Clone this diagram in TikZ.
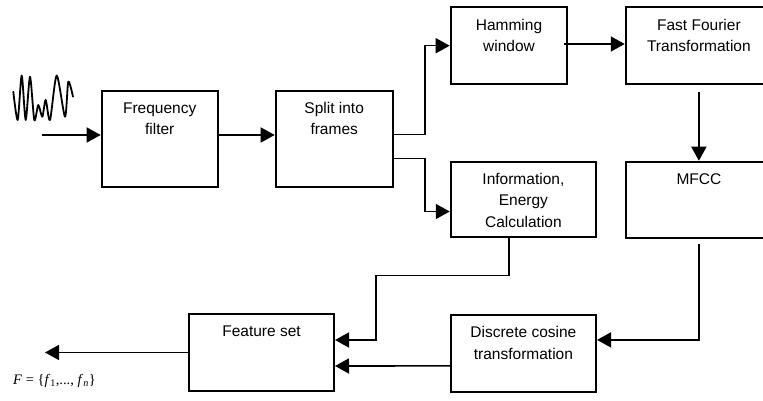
\documentclass[tikz,border=0pt]{standalone}
\usepackage{fontspec}
\setmainfont{Liberation Sans}
\newfontfamily\serifform{Liberation Serif}
\usetikzlibrary{arrows.meta}
\tikzset{
  box/.style={draw, line width=2pt, inner sep=0pt, rectangle},
  boxtext/.style={anchor=north, align=center, inner sep=0pt, font=\fontsize{15.5}{21.3}\selectfont, yshift=-12.5pt},
  conn/.style={line width=1.6pt, -{Triangle[length=14pt,width=15pt]}}
}
\begin{document}
\begin{tikzpicture}[x=1pt,y=-1pt]
\clip (0,0) rectangle (763,401);
\useasboundingbox (0,0) rectangle (763,401);
% waveform
\draw[line width=1.8pt, line join=round, line cap=round] plot[smooth, tension=0.45] coordinates {
 (13.3,91.7) (17.7,120) (21.7,75.5) (25.7,120) (30,76.7) (34.3,120) (38.3,105) (42.3,116.7)
 (45.7,100) (50,120) (56.7,75.5) (65,116.7) (68.3,81.7) (73,96.7)};
% boxes
\node[box, minimum width=116pt, minimum height=96pt] (ff) at (159.7,138.7) {};
\node[box, minimum width=117pt, minimum height=96pt] (split) at (334.2,138.7) {};
\node[box, minimum width=116.6pt, minimum height=76.7pt] (hw) at (509,45.7) {};
\node[box, minimum width=146.3pt, minimum height=76.7pt] (fft) at (698.9,45.7) {};
\node[box, minimum width=145.3pt, minimum height=75.6pt] (info) at (523.4,199.5) {};
\node[box, minimum width=146.3pt, minimum height=76.3pt] (mfcc) at (698.9,199.9) {};
\node[box, minimum width=145.3pt, minimum height=76.7pt] (dct) at (523.4,353.4) {};
\node[box, minimum width=145pt, minimum height=76.4pt] (feat) at (261.5,352.5) {};
% texts
\node[boxtext] (ff-t) at (ff.north) {Frequency\\filter};
\node[boxtext] (split-t) at (split.north) {Split into\\frames};
\node[boxtext] (hw-t) at (hw.north) {Hamming\\window};
\node[boxtext] (fft-t) at (fft.north) {Fast Fourier\\Transformation};
\node[boxtext] (info-t) at (info.north) {Information,\\Energy\\Calculation};
\node[boxtext] (mfcc-t) at (mfcc.north) {MFCC};
\node[boxtext] (dct-t) at (dct.north) {Discrete cosine\\transformation};
\node[boxtext] (feat-t) at (feat.north) {Feature set};
% formula
\node[anchor=west, inner sep=0pt, font=\fontsize{14.5}{16}\serifform] (formula) at (13,381)
 {\textit{F} = \{\textit{f}\textsubscript{1},..., \textit{f}\textsubscript{\textit{n}}\}};
% connectors
\coordinate (in) at (42,135);
\coordinate (out) at (45,352.5);
\draw[conn] (in) -- ([yshift=3.7pt]ff.west);
\draw[conn] ([yshift=3.7pt]ff.east) -- ([yshift=3.7pt]split.west);
\draw[conn] ([yshift=4pt]split.east) -- ++(31,0) |- (hw.west);
\draw[conn] ([yshift=-20pt]split.east) -- ++(31,0) |- ([yshift=-12pt]info.west);
\draw[conn] ([xshift=-4pt,yshift=1.7pt]hw.east) -- ([yshift=1.7pt]fft.west);
\draw[conn] ([yshift=-6.7pt]fft.south) -- (mfcc.north);
\draw[conn] ([yshift=-4.7pt]mfcc.south) |- ([yshift=13.5pt]dct.east);
\draw[conn] ([xshift=-14.5pt]info.south) -- ++(0,37) -- ++(-133,0) |- ([yshift=12.5pt]feat.east);
\draw[conn] ([yshift=-12.5pt]dct.west) -- ([yshift=-13.5pt]feat.east);
\draw[conn] (feat.west) -- (out);
\end{tikzpicture}
\end{document}
